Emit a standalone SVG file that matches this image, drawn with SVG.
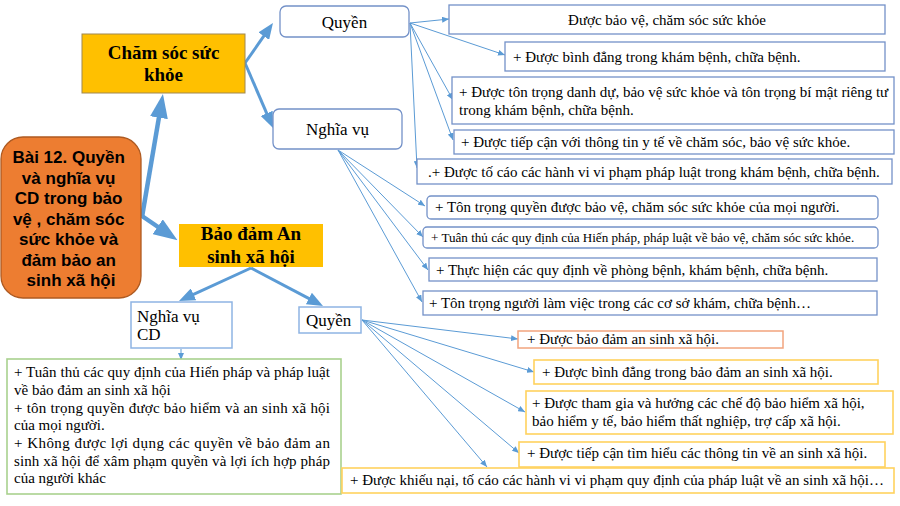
<svg xmlns="http://www.w3.org/2000/svg" width="900" height="506" viewBox="0 0 900 506">
<defs>
<style>
.serif{font-family:"Liberation Serif","Times New Roman",serif;fill:#000}
.t15{font-size:15px}
.t17{font-size:17px}
.t12{font-size:13.1px}
.bold{font-weight:bold}
.sans{font-family:"Liberation Sans",Arial,sans-serif;font-weight:bold;font-size:17px;fill:#000}
.bx{fill:#fff;stroke:#7391C8;stroke-width:1.3}
.bxl{fill:#fff;stroke:#8EB4E3;stroke-width:1.5}
.bxo{fill:#fff;stroke:#F2A47E;stroke-width:1.5}
.bxy{fill:#fff;stroke:#FFD25E;stroke-width:1.6}
.bxg{fill:#fff;stroke:#A9D18E;stroke-width:1.6}
.thin{fill:none;stroke:#5B9BD5;stroke-width:1}
.thick{fill:none;stroke:#5B9BD5;stroke-width:4.5}
.mid{fill:none;stroke:#5B9BD5;stroke-width:3}
</style>
<marker id="ahBig" viewBox="0 0 24 18" refX="4" refY="9" markerWidth="24" markerHeight="18" orient="auto" markerUnits="userSpaceOnUse"><path d="M0,0 L24,9 L0,18 z" fill="#5B9BD5"/></marker>
<marker id="ahMid" viewBox="0 0 16 13" refX="3" refY="6.5" markerWidth="16" markerHeight="13" orient="auto" markerUnits="userSpaceOnUse"><path d="M0,0 L16,6.5 L0,13 z" fill="#5B9BD5"/></marker>
<marker id="ahSm" viewBox="0 0 7 6" refX="7" refY="3" markerWidth="7" markerHeight="6" orient="auto" markerUnits="userSpaceOnUse"><path d="M0,0 L7,3 L0,6 z" fill="#5B9BD5"/></marker>
</defs>
<rect width="900" height="506" fill="#fff"/>

<g id="connectors">
<line class="thick" x1="142" y1="217" x2="159.6" y2="113.7" marker-end="url(#ahBig)"/>
<line class="thick" x1="142" y1="216" x2="161" y2="229" marker-end="url(#ahBig)"/>
<line class="mid" x1="245" y1="63" x2="265.5" y2="33.7" marker-end="url(#ahMid)"/>
<line class="mid" x1="245" y1="63" x2="267.9" y2="116.1" marker-end="url(#ahMid)"/>
<line class="mid" x1="251" y1="268" x2="190.8" y2="295.6" marker-end="url(#ahMid)"/>
<line class="mid" x1="251" y1="268" x2="311.5" y2="299.9" marker-end="url(#ahMid)"/>
<line class="thin" x1="410" y1="23" x2="449" y2="19" marker-end="url(#ahSm)"/>
<line class="thin" x1="410" y1="23" x2="505" y2="55" marker-end="url(#ahSm)"/>
<line class="thin" x1="410" y1="23" x2="453" y2="100" marker-end="url(#ahSm)"/>
<line class="thin" x1="410" y1="23" x2="453" y2="140" marker-end="url(#ahSm)"/>
<line class="thin" x1="410" y1="23" x2="417" y2="168" marker-end="url(#ahSm)"/>
<line class="thin" x1="338" y1="150" x2="425" y2="206" marker-end="url(#ahSm)"/>
<line class="thin" x1="338" y1="150" x2="423" y2="237" marker-end="url(#ahSm)"/>
<line class="thin" x1="338" y1="150" x2="428" y2="270" marker-end="url(#ahSm)"/>
<line class="thin" x1="338" y1="150" x2="422" y2="302" marker-end="url(#ahSm)"/>
<line class="thin" x1="362" y1="320" x2="518" y2="339" marker-end="url(#ahSm)"/>
<line class="thin" x1="362" y1="320" x2="534" y2="372" marker-end="url(#ahSm)"/>
<line class="thin" x1="362" y1="320" x2="525" y2="412" marker-end="url(#ahSm)"/>
<line class="thin" x1="362" y1="320" x2="519" y2="453" marker-end="url(#ahSm)"/>
<line class="thin" x1="362" y1="320" x2="487" y2="467" marker-end="url(#ahSm)"/>
<line class="thin" x1="181" y1="349" x2="181" y2="360" marker-end="url(#ahSm)"/>
</g>

<g id="main">
<rect x="1" y="137" width="140" height="161" rx="22" fill="#ED7D31" stroke="#AE5A21" stroke-width="1.3"/>
<text class="sans" text-anchor="middle">
<tspan x="71" y="163">Bài 12. Quyền</tspan>
<tspan x="71" y="183.5">và nghĩa vụ</tspan>
<tspan x="71" y="204">CD trong bảo</tspan>
<tspan x="71" y="224.5">vệ , chăm sóc</tspan>
<tspan x="71" y="245">sức khỏe và</tspan>
<tspan x="71" y="265.5">đảm bảo an</tspan>
<tspan x="71" y="286">sinh xã hội</tspan>
</text>
</g>

<g id="cham-soc">
<rect x="82" y="34" width="163" height="59" fill="#FFC000" stroke="#A08850" stroke-width="1"/>
<text class="serif bold" font-size="19" text-anchor="middle"><tspan x="163.5" y="59">Chăm sóc sức</tspan><tspan x="163.5" y="81">khỏe</tspan></text>
</g>

<g id="bao-dam">
<rect x="179" y="224" width="144" height="43" fill="#FFC000"/>
<text class="serif bold" font-size="19" text-anchor="middle"><tspan x="251" y="240">Bảo đảm An</tspan><tspan x="251" y="263">sinh xã hội</tspan></text>
</g>

<g id="quyen-1">
<rect class="bx" x="280" y="6" width="129" height="31" rx="6"/>
<text class="serif t17" x="344.5" y="28" text-anchor="middle">Quyền</text>
</g>

<g id="nghia-vu-1">
<rect class="bx" x="273" y="109" width="129" height="40" rx="6"/>
<text class="serif t17" x="337.5" y="135" text-anchor="middle">Nghĩa vụ</text>
</g>

<g id="nghia-vu-cd">
<rect class="bxl" x="131" y="302" width="101" height="46"/>
<text class="serif t17"><tspan x="137" y="322">Nghĩa vụ</tspan><tspan x="137" y="340">CD</tspan></text>
</g>

<g id="quyen-2">
<rect class="bxl" x="299" y="307" width="62" height="26"/>
<text class="serif t17" x="306" y="326">Quyền</text>
</g>

<g id="r1">
<rect class="bx" x="449" y="5" width="436" height="29"/>
<text class="serif t15" x="667" y="25" text-anchor="middle">Được bảo vệ, chăm sóc sức khỏe</text>
</g>
<g id="r2">
<rect class="bx" x="505" y="42" width="380" height="29"/>
<text class="serif t15" x="513" y="62">+ Được bình đẳng trong khám bệnh, chữa bệnh.</text>
</g>
<g id="r3">
<rect class="bx" x="452" y="77" width="442" height="47"/>
<text class="serif t15"><tspan x="459" y="97">+ Được tôn trọng danh dự, bảo vệ sức khỏe và tôn trọng bí mật riêng tư</tspan><tspan x="459" y="115">trong khám bệnh, chữa bệnh.</tspan></text>
</g>
<g id="r4">
<rect class="bx" x="454" y="130" width="440" height="24"/>
<text class="serif t15" x="461" y="147">+ Được tiếp cận với thông tin y tế về chăm sóc, bảo vệ sức khỏe.</text>
</g>
<g id="r5">
<rect class="bx" x="417" y="159" width="475" height="25"/>
<text class="serif t15" x="428" y="177">.+ Được tố cáo các hành vi vi phạm pháp luật trong khám bệnh, chữa bệnh.</text>
</g>

<g id="n1">
<rect class="bx" x="427" y="196" width="451" height="23" rx="4"/>
<text class="serif t15" x="435" y="212">+ Tôn trọng quyền được bảo vệ, chăm sóc sức khỏe của mọi người.</text>
</g>
<g id="n2">
<rect class="bx" x="423" y="227" width="455" height="21" rx="4"/>
<text class="serif t12" x="431" y="242">+ Tuân thủ các quy định của Hiến pháp, pháp luật về bảo vệ, chăm sóc sức khỏe.</text>
</g>
<g id="n3">
<rect class="bx" x="429" y="258" width="448" height="23"/>
<text class="serif t15" x="436" y="275">+ Thực hiện các quy định về phòng bệnh, khám bệnh, chữa bệnh.</text>
</g>
<g id="n4">
<rect class="bx" x="423" y="291" width="454" height="24"/>
<text class="serif t15" x="429" y="308">+ Tôn trọng người làm việc trong các cơ sở khám, chữa bệnh…</text>
</g>

<g id="nghia-vu-cd-list">
<rect class="bxg" x="7" y="359" width="334" height="135"/>
<text class="serif t15">
<tspan x="14" y="377" textLength="316" lengthAdjust="spacing">+ Tuân thủ các quy định của Hiến pháp và pháp luật</tspan>
<tspan x="14" y="395">về bảo đảm an sinh xã hội</tspan>
<tspan x="14" y="413" textLength="316" lengthAdjust="spacing">+ tôn trọng quyền được bảo hiểm và an sinh xã hội</tspan>
<tspan x="14" y="430">của mọi người.</tspan>
<tspan x="14" y="448" textLength="316" lengthAdjust="spacing">+ Không được lợi dụng các quyền về bảo đảm an</tspan>
<tspan x="14" y="466" textLength="316" lengthAdjust="spacing">sinh xã hội để xâm phạm quyền và lợi ích hợp pháp</tspan>
<tspan x="14" y="483">của người khác</tspan>
</text>
</g>

<g id="q1">
<rect class="bxo" x="518" y="331" width="265" height="17"/>
<text class="serif t15" x="527" y="344">+ Được bảo đảm an sinh xã hội.</text>
</g>
<g id="q2">
<rect class="bxy" x="534" y="360" width="344" height="24"/>
<text class="serif t15" x="542" y="377">+ Được bình đẳng trong bảo đảm an sinh xã hội.</text>
</g>
<g id="q3">
<rect class="bxy" x="526" y="391" width="367" height="43"/>
<text class="serif t15"><tspan x="532" y="408">+ Được tham gia và hưởng các chế độ bảo hiểm xã hội,</tspan><tspan x="532" y="426">bảo hiểm y tế, bảo hiểm thất nghiệp, trợ cấp xã hội.</tspan></text>
</g>
<g id="q4">
<rect class="bxy" x="519" y="442" width="366" height="25"/>
<text class="serif t15" x="527" y="458">+ Được tiếp cận tìm hiểu các thông tin về an sinh xã hội.</text>
</g>
<g id="q5">
<rect class="bxy" x="342" y="468" width="552" height="25"/>
<text class="serif t15" x="350" y="485">+ Được khiếu nại, tố cáo các hành vi vi phạm quy định của pháp luật về an sinh xã hội…</text>
</g>
</svg>
